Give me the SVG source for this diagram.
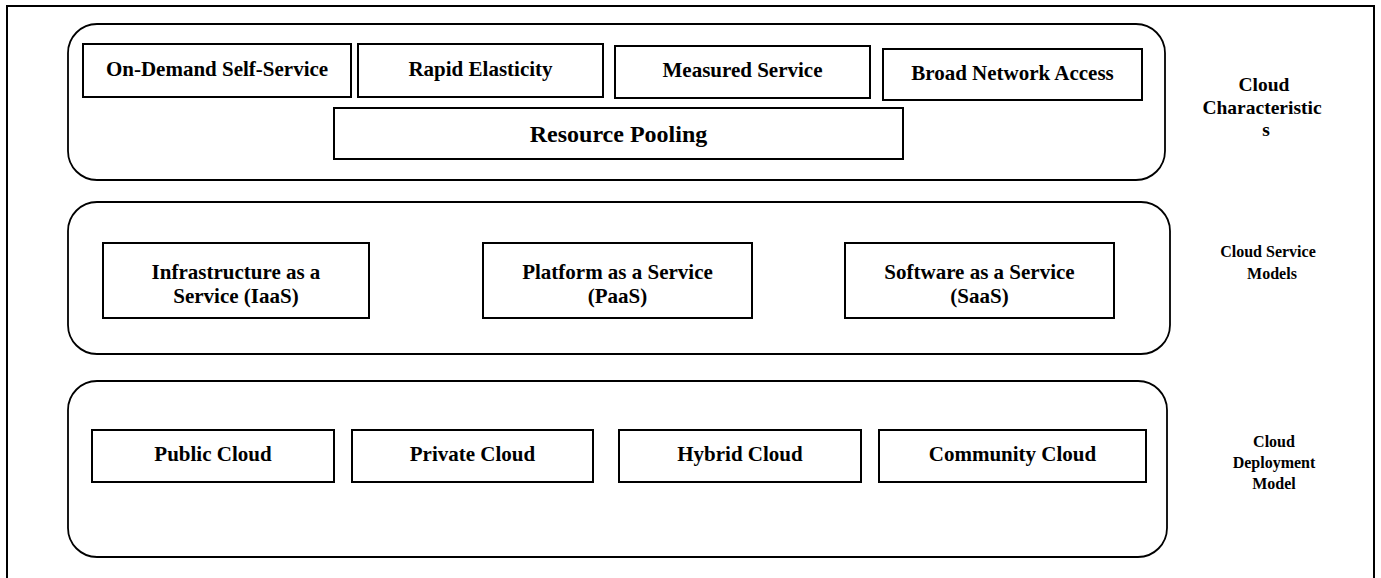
<svg xmlns="http://www.w3.org/2000/svg" width="1381" height="578" viewBox="0 0 1381 578">
  <style>
    .frame { fill: none; stroke: #000; stroke-width: 2; }
    .layer { fill: #fff; stroke: #000; stroke-width: 1.8; }
    .box { fill: #fff; stroke: #000; stroke-width: 2; }
    text { font-family: "Liberation Serif", "Times New Roman", serif; font-weight: bold; fill: #000; text-anchor: middle; }
    .t21 { font-size: 21px; }
    .t24 { font-size: 24px; }
    .lbl { font-size: 16px; }
    .lblBig { font-size: 19.5px; }
  </style>
  <rect width="1381" height="578" fill="#fff"/>

  <!-- page frame (open at the bottom) -->
  <path class="frame" d="M7,578 V6 H1374 V578"/>

  <!-- Layer 1: cloud characteristics -->
  <g id="layer-characteristics">
    <rect class="layer" x="68" y="24" width="1097" height="156" rx="29" ry="29"/>
  </g>
  <g id="on-demand">
    <rect class="box" x="83" y="44" width="268" height="53"/>
    <text class="t21" x="217" y="76">On-Demand Self-Service</text>
  </g>
  <g id="rapid-elasticity">
    <rect class="box" x="358" y="44" width="245" height="53"/>
    <text class="t21" x="480.5" y="76">Rapid Elasticity</text>
  </g>
  <g id="measured-service">
    <rect class="box" x="615" y="46" width="255" height="52"/>
    <text class="t21" x="742.5" y="77">Measured Service</text>
  </g>
  <g id="broad-network-access">
    <rect class="box" x="883" y="49" width="259" height="51"/>
    <text class="t21" x="1012.5" y="80">Broad Network Access</text>
  </g>
  <g id="resource-pooling">
    <rect class="box" x="334" y="108" width="569" height="51"/>
    <text class="t24" x="618.5" y="142">Resource Pooling</text>
  </g>
  <g id="label-characteristics">
    <text class="lblBig" x="1264" y="91">Cloud</text>
    <text class="lblBig" x="1262" y="114">Characteristic</text>
    <text class="lblBig" x="1266" y="136">s</text>
  </g>

  <!-- Layer 2: service models -->
  <g id="layer-service-models">
    <rect class="layer" x="68" y="202" width="1102" height="152" rx="29" ry="29"/>
  </g>
  <g id="iaas">
    <rect class="box" x="103" y="243" width="266" height="75"/>
    <text class="t21" x="236" y="279">Infrastructure as a</text>
    <text class="t21" x="236" y="303">Service (IaaS)</text>
  </g>
  <g id="paas">
    <rect class="box" x="483" y="243" width="269" height="75"/>
    <text class="t21" x="617.5" y="279">Platform as a Service</text>
    <text class="t21" x="617.5" y="303">(PaaS)</text>
  </g>
  <g id="saas">
    <rect class="box" x="845" y="243" width="269" height="75"/>
    <text class="t21" x="979.5" y="279">Software as a Service</text>
    <text class="t21" x="979.5" y="303">(SaaS)</text>
  </g>
  <g id="label-service-models">
    <text class="lbl" x="1268" y="257">Cloud Service</text>
    <text class="lbl" x="1272" y="279">Models</text>
  </g>

  <!-- Layer 3: deployment models -->
  <g id="layer-deployment">
    <rect class="layer" x="68" y="381" width="1099" height="176" rx="29" ry="29"/>
  </g>
  <g id="public-cloud">
    <rect class="box" x="92" y="430" width="242" height="52"/>
    <text class="t21" x="213" y="461">Public Cloud</text>
  </g>
  <g id="private-cloud">
    <rect class="box" x="352" y="430" width="241" height="52"/>
    <text class="t21" x="472.5" y="461">Private Cloud</text>
  </g>
  <g id="hybrid-cloud">
    <rect class="box" x="619" y="430" width="242" height="52"/>
    <text class="t21" x="740" y="461">Hybrid Cloud</text>
  </g>
  <g id="community-cloud">
    <rect class="box" x="879" y="430" width="267" height="52"/>
    <text class="t21" x="1012.5" y="461">Community Cloud</text>
  </g>
  <g id="label-deployment">
    <text class="lbl" x="1274" y="447">Cloud</text>
    <text class="lbl" x="1274" y="468">Deployment</text>
    <text class="lbl" x="1274" y="489">Model</text>
  </g>
</svg>
